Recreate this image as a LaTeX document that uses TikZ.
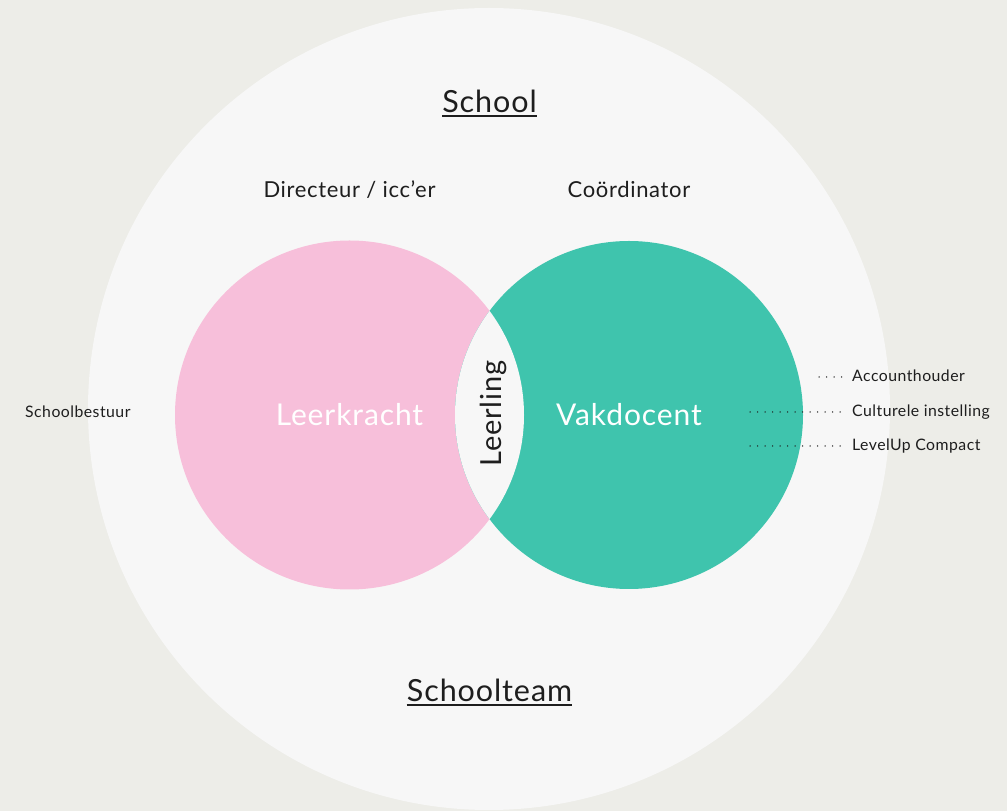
\documentclass[tikz,border=0pt]{standalone}
\usepackage{fontspec}
\setmainfont[LetterSpace=3]{Lato}
\definecolor{bgc}{HTML}{EDEDE8}
\definecolor{bigc}{HTML}{F7F7F7}
\definecolor{pinkc}{HTML}{F7BFDA}
\definecolor{tealc}{HTML}{3FC4AD}
\definecolor{txt}{HTML}{1E1E1E}
\begin{document}
\begin{tikzpicture}[x=1pt,y=1pt,
  lbl/.style={inner sep=0pt, text=txt, anchor=base},
  biglbl/.style={lbl, font=\fontsize{30.5}{30.5}\selectfont},
  midlbl/.style={lbl, font=\fontsize{22}{22}\selectfont},
  smalllbl/.style={lbl, anchor=base west, font=\fontsize{15.8}{15.8}\selectfont},
  circlbl/.style={lbl, text=white, font=\fontsize{30}{30}\selectfont},
  vertlbl/.style={lbl, font=\fontsize{29}{29}\selectfont},
  uline/.style={draw=txt, line width=1.4pt},
  dotline/.style={draw=txt, line width=1.5pt, line cap=round, dash pattern=on 0pt off 7.5pt}]
\fill[bgc] (0,0) rectangle (1007,811);
\useasboundingbox (0,0) rectangle (1007,811);
\fill[bigc] (489,402) circle[radius=401pt];
\fill[pinkc] (349.5,396) circle[radius=174.5pt];
\fill[tealc] (629,396) circle[radius=174pt];
\begin{scope}
  \clip (349.5,396) circle[radius=174.5pt];
  \fill[bigc] (629,396) circle[radius=174pt];
\end{scope}
% titles
\node[biglbl] (school) at (489.5,698) {School};
\draw[uline] ([yshift=-3pt]school.base west) -- ([yshift=-3pt]school.base east);
\node[biglbl] (team) at (489.5,109) {Schoolteam};
\draw[uline] ([yshift=-3pt]team.base west) -- ([yshift=-3pt]team.base east);
\node[midlbl] (dir) at (349.5,613) {Directeur / icc’er};
\node[midlbl] (coord) at (629,613) {Coördinator};
\node[circlbl] (leer) at (349.5,385) {Leerkracht};
\node[circlbl] (vak) at (629,385) {Vakdocent};
\node[vertlbl, rotate=90] (leerling) at (501,397.5) {Leerling};
\node[smalllbl] (bestuur) at (25,393) {Schoolbestuur};
\node[smalllbl] (acc) at (852,429) {Accounthouder};
\node[smalllbl] (cult) at (852,394) {Culturele instelling};
\node[smalllbl] (lvl) at (852,360) {LevelUp Compact};
\coordinate (accs) at (819,434);
\coordinate (cults) at (750,399);
\coordinate (lvls) at (750,365);
\draw[dotline] (accs) -- ([xshift=-9pt]accs -| acc.west);
\draw[dotline] (cults) -- ([xshift=-9pt]cults -| cult.west);
\draw[dotline] (lvls) -- ([xshift=-9pt]lvls -| lvl.west);
\end{tikzpicture}
\end{document}
